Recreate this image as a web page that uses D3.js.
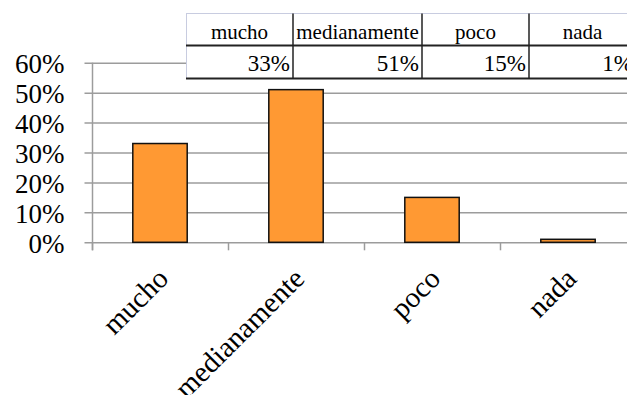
<!DOCTYPE html>
<html>
<head>
<meta charset="utf-8">
<script src="https://cdn.jsdelivr.net/npm/d3@7"></script>
<style>
  body { margin: 0; background: #fff; }
  svg { display: block; }
  text { font-family: "Liberation Serif", "Times New Roman", serif; fill: #000; }
</style>
</head>
<body>
<div id="chart"></div>
<script>
// chart data
const categories = ["mucho", "medianamente", "poco", "nada"];
const values = [0.33, 0.51, 0.15, 0.01];
const yTicks = [0, 0.1, 0.2, 0.3, 0.4, 0.5, 0.6];

const W = 627, H = 395;
const serif = "'Liberation Serif', 'Times New Roman', serif";

const svg = d3.select("#chart")
    .append("svg")
    .attr("width", W)
    .attr("height", H);

// scales
const x = d3.scaleBand()
    .domain(categories)
    .range([92, 636])
    .paddingInner(0.6)
    .paddingOuter(0.3);

const y = d3.scaleLinear()
    .domain([0, 0.6])
    .range([242.3, 62.7]);

// gridlines + y labels
const yAxis = svg.append("g")
    .attr("transform", "translate(92.5,0)")
    .call(d3.axisLeft(y)
        .tickValues(yTicks)
        .tickFormat(d3.format(".0%"))
        .tickSize(-(W - 92 + 20))
        .tickPadding(28))
    .attr("font-family", serif)
    .attr("font-size", 27);

yAxis.select(".domain").remove();
yAxis.selectAll(".tick line")
    .attr("x1", -8)
    .attr("stroke", "#9c9c9c")
    .attr("stroke-width", 1.5);
yAxis.selectAll(".tick text")
    .attr("dy", "0.38em");

// vertical axis line
svg.append("line")
    .attr("x1", 92.5).attr("x2", 92.5)
    .attr("y1", y(0.6)).attr("y2", y(0) + 8)
    .attr("stroke", "#9c9c9c")
    .attr("stroke-width", 1.5);

// category ticks at band boundaries
const step = x.step();
const bounds = d3.range(categories.length + 1).map(i => x.range()[0] + i * step);
svg.selectAll(".cat-tick")
    .data(bounds)
    .enter()
    .append("line")
    .attr("x1", d => d + 0.5).attr("x2", d => d + 0.5)
    .attr("y1", y(0)).attr("y2", y(0) + 8)
    .attr("stroke", "#9c9c9c")
    .attr("stroke-width", 1.5);

// bars
svg.selectAll(".bar")
    .data(categories)
    .enter()
    .append("rect")
    .attr("x", d => x(d))
    .attr("y", (d, i) => y(values[i]))
    .attr("width", x.bandwidth())
    .attr("height", (d, i) => y(0) - y(values[i]))
    .attr("fill", "#ff9933")
    .attr("stroke", "#111")
    .attr("stroke-width", 1.5);

// x labels, rotated
svg.selectAll(".xlabel")
    .data(categories)
    .enter()
    .append("text")
    .attr("text-anchor", "end")
    .attr("font-size", 29)
    .attr("transform", d => `translate(${x(d) + x.bandwidth() / 2 + 10},${y(0) + 38})rotate(-45)`)
    .text(d => d);

// data table at the top
const tblLeft = 186, tblTop = 13.5, rowSep = 45.5, tblBottom = 78.5;
const colEdges = [186, 293, 422, 529, 636];

const tbl = svg.append("g");

tbl.append("rect")
    .attr("x", tblLeft).attr("y", tblTop)
    .attr("width", colEdges[4] - tblLeft)
    .attr("height", tblBottom - tblTop)
    .attr("fill", "#fff");

tbl.append("line")
    .attr("x1", tblLeft).attr("x2", W)
    .attr("y1", tblTop).attr("y2", tblTop)
    .attr("stroke", "#c8cce0").attr("stroke-width", 1);
tbl.append("line")
    .attr("x1", tblLeft + 0.5).attr("x2", tblLeft + 0.5)
    .attr("y1", tblTop).attr("y2", tblBottom)
    .attr("stroke", "#c8cce0").attr("stroke-width", 1);
tbl.append("line")
    .attr("x1", tblLeft).attr("x2", W)
    .attr("y1", rowSep).attr("y2", rowSep)
    .attr("stroke", "#222").attr("stroke-width", 2);
tbl.append("line")
    .attr("x1", tblLeft).attr("x2", W)
    .attr("y1", tblBottom).attr("y2", tblBottom)
    .attr("stroke", "#222").attr("stroke-width", 2);

tbl.selectAll(".col-sep")
    .data(colEdges.slice(1, 4))
    .enter()
    .append("line")
    .attr("x1", d => d).attr("x2", d => d)
    .attr("y1", tblTop).attr("y2", tblBottom)
    .attr("stroke", "#222").attr("stroke-width", 1.5);

tbl.selectAll(".hdr")
    .data(categories)
    .enter()
    .append("text")
    .attr("x", (d, i) => (colEdges[i] + colEdges[i + 1]) / 2)
    .attr("y", 38.5)
    .attr("text-anchor", "middle")
    .attr("font-size", 21)
    .text(d => d);

tbl.selectAll(".val")
    .data(values)
    .enter()
    .append("text")
    .attr("x", (d, i) => colEdges[i + 1] - 3)
    .attr("y", 70.5)
    .attr("text-anchor", "end")
    .attr("font-size", 23)
    .text(d => d3.format(".0%")(d));
</script>
</body>
</html>
